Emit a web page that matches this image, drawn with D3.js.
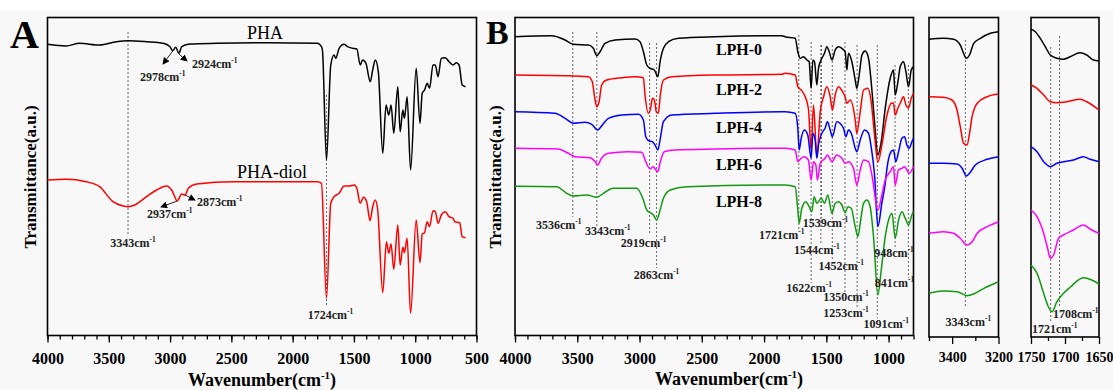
<!DOCTYPE html>
<html>
<head>
<meta charset="utf-8">
<script src="https://cdn.jsdelivr.net/npm/d3@7"></script>
<style>
  body { margin: 0; background: #fff; }
  svg { display: block; }
  svg text { font-family: "Liberation Serif", "Times New Roman", serif; }
</style>
</head>
<body>
<div id="chart"></div>
<script>
// ---- data: [wavenumber (cm-1), transmittance (a.u., stacked)] ----
const pha = [[4000,290.7],[3848,289],[3739,291.7],[3575,290],[3438,293.3],[3343,294.3],[3192,293.3],[3056,291.7],[3001,288.3],[2978,284.3],[2954,287.7],[2928,281.7],[2905,288.3],[2837,291],[2618,291.7],[2208,292.3],[1798,291.7],[1765,288.3],[1757,285],[1724,175],[1689,270],[1662,280],[1648,276.7],[1621,286.7],[1580,290.7],[1552,288.3],[1511,286.7],[1476,286],[1449,270],[1429,275],[1402,271.7],[1367,253.3],[1347,265],[1326,275],[1301,263.3],[1265,181.7],[1238,230],[1216,220],[1197,230],[1175,201.7],[1142,248.3],[1123,203.3],[1101,225],[1088,216.7],[1066,238.3],[1038,165],[992,266.7],[961,211.7],[943,241.7],[924,245],[902,251.7],[883,246.7],[855,270],[836,270],[814,258.3],[787,276.7],[754,277.3],[724,273.3],[691,270],[664,272.3],[642,270],[617,250],[590,248.3]];

const phaDiol = [[4000,155],[3848,155.7],[3684,153.3],[3575,148.3],[3466,133.3],[3384,129],[3343,128.3],[3288,130],[3192,138.3],[3110,145],[3028,149],[2987,145],[2941,134.3],[2905,141],[2878,140],[2851,146.7],[2783,151],[2482,153.3],[1798,153.3],[1765,151.7],[1724,36.7],[1689,131.7],[1662,138.3],[1621,141.7],[1580,149],[1539,149],[1498,150],[1476,146.7],[1449,131.7],[1421,137.7],[1396,133.3],[1369,114.3],[1347,128.3],[1326,135],[1306,125],[1265,42.3],[1235,93.3],[1216,81.7],[1197,91],[1175,65.7],[1142,110],[1123,70],[1101,87.7],[1088,82.3],[1066,96.7],[1038,21.7],[992,115],[961,72.3],[943,101],[924,102.3],[902,113.3],[883,108.3],[855,124.3],[836,123.3],[814,111.7],[787,120],[754,123.3],[724,118.3],[691,116.7],[678,113.3],[637,112.3],[617,98.3],[590,97.3]];

const lph0 = [[4000,298.3],[3705,299.3],[3598,295],[3532,290.7],[3411,290],[3371,286.7],[3344,279.3],[3317,283.3],[3277,291.7],[3196,295],[3036,296],[2996,293.3],[2969,283.3],[2942,270],[2915,266.7],[2881,265],[2853,258.3],[2835,273.3],[2808,286.7],[2768,293.3],[2688,296.7],[2393,298.3],[1857,299.3],[1831,298.3],[1750,296.7],[1729,283.3],[1710,276.7],[1684,278.3],[1656,275],[1638,273.3],[1622,246.7],[1608,275],[1595,273.3],[1576,250],[1563,266.7],[1536,276.7],[1515,281.7],[1496,288.3],[1477,283.3],[1455,275],[1429,285],[1402,288.3],[1375,286.7],[1349,283.3],[1335,265],[1322,281.7],[1295,273.3],[1268,255],[1255,246.7],[1236,260],[1214,280],[1188,284],[1161,276.7],[1140,253.3],[1113,213.3],[1086,180],[1059,193.3],[1027,226.7],[987,256.7],[961,265],[947,240],[925,253.3],[907,268.3],[880,273.3],[861,263.3],[840,248.3],[818,265],[800,268.3]];

const lph2 = [[4000,260],[3598,259.3],[3411,258.3],[3379,253.3],[3363,240],[3344,228.3],[3325,233.3],[3304,250],[3264,255],[3143,257.3],[3036,258.3],[2969,257.3],[2956,240],[2929,221.7],[2908,228.3],[2897,236.7],[2881,235],[2865,223.3],[2849,221.7],[2833,240],[2808,255],[2741,258.3],[2393,260],[1857,260.7],[1831,261.7],[1750,260],[1729,248.3],[1702,245],[1676,240],[1644,226.7],[1622,185],[1603,230],[1576,178],[1549,223.3],[1522,238.3],[1496,248.3],[1469,238.3],[1451,225],[1429,240],[1402,248.3],[1370,243.3],[1349,238.3],[1335,231.7],[1308,235],[1268,215],[1255,201.7],[1228,223.3],[1201,245],[1166,246.7],[1140,233.3],[1113,200],[1086,173],[1054,190],[1013,220],[978,231.7],[961,232],[947,220],[925,227],[907,231.7],[880,238.3],[861,230],[840,227],[818,236.7],[800,241.7]];

const lph4 = [[4000,223.3],[3679,221.7],[3598,216.7],[3532,211.7],[3438,212.7],[3384,210.7],[3336,205],[3299,210],[3250,216.7],[3143,220],[3009,220.7],[2969,215],[2950,198.3],[2923,194],[2897,193.3],[2875,190],[2853,185],[2833,196.7],[2808,213.3],[2741,220],[2393,221.7],[1857,223.3],[1831,223.3],[1750,221.7],[1729,206.7],[1718,185],[1702,196.7],[1676,205],[1649,200],[1622,176.7],[1608,201.7],[1590,195],[1576,176.7],[1563,190],[1536,201.7],[1510,206.7],[1491,213.3],[1469,205],[1451,198.3],[1416,213.3],[1390,211.7],[1362,206.7],[1343,198.3],[1322,205],[1295,200],[1268,186.7],[1255,183.3],[1228,195],[1193,205],[1161,201.7],[1140,188.3],[1113,160],[1086,108.3],[1054,132],[1027,151.7],[1013,166.7],[987,181.7],[961,185],[942,173.3],[920,183.3],[893,196.7],[872,198.3],[853,190],[835,186.7],[813,193.3],[800,196.7]];

const lph6 = [[4000,186.7],[3652,186],[3572,181.7],[3518,178.3],[3397,177.3],[3357,173.3],[3336,170],[3309,176],[3250,181.7],[3089,183.3],[2982,182.7],[2950,173.3],[2915,166],[2889,168.3],[2869,165],[2853,163.3],[2833,173.3],[2801,183.3],[2716,185],[2393,186],[1857,186.7],[1831,186.7],[1750,185],[1729,173.3],[1702,176.7],[1676,178.3],[1644,175],[1622,155],[1603,173.3],[1584,170],[1572,155],[1549,171.7],[1510,176.7],[1491,180],[1455,173.3],[1416,180],[1375,176.7],[1349,171.7],[1322,173.3],[1282,166.7],[1255,150],[1228,165],[1201,175],[1161,173.3],[1134,160],[1086,125],[1054,140],[1027,155],[987,163.3],[961,168.3],[947,150],[920,165],[893,166.7],[872,168.3],[853,165],[835,161.7],[800,168.3]];

const lph8 = [[4000,148.7],[3665,148.3],[3585,141.7],[3532,139],[3424,140],[3344,137.7],[3290,141.7],[3210,146.7],[3022,146.7],[2969,135],[2942,125],[2915,122.3],[2889,120],[2862,115],[2835,125],[2808,136.7],[2754,145],[2620,148.3],[1857,150],[1831,150],[1750,148.3],[1729,125],[1718,111.7],[1697,126.7],[1665,133.3],[1638,128.3],[1617,123.3],[1598,138.3],[1576,131.7],[1541,136.7],[1515,131.7],[1488,140],[1455,121.7],[1429,131.7],[1402,133.3],[1375,130],[1349,122.3],[1327,128.3],[1300,126.7],[1268,108.3],[1246,98.3],[1228,111.7],[1201,131.7],[1174,135],[1148,128.3],[1121,98.3],[1086,40],[1059,65],[1027,98.3],[1000,115],[973,121.7],[947,96.7],[920,115],[893,123.3],[866,116.7],[840,110],[813,120],[800,123.3]];

// zoomed O-H region (3500-3200 cm-1)
const ohLph0 = [[3500,295.7],[3438,296.7],[3394,295.7],[3365,290],[3351,281.7],[3339,276.7],[3325,280],[3307,291.7],[3278,296.7],[3235,301.7],[3200,303.3]];
const ohLph2 = [[3500,238.3],[3438,237.7],[3401,235],[3379,225],[3365,208.3],[3351,191.7],[3336,190],[3325,201.7],[3314,218.3],[3292,231.7],[3249,238.3],[3200,241]];
const ohLph4 = [[3500,171.7],[3438,171.7],[3379,171],[3357,166.7],[3339,159],[3325,161.7],[3300,170],[3249,175.7],[3200,178.3]];
const ohLph6 = [[3500,101.7],[3438,103.3],[3394,101.7],[3365,96.7],[3336,90],[3314,93.3],[3292,101.7],[3249,108.3],[3200,113.3]];
const ohLph8 = [[3500,41.7],[3438,44],[3379,43.3],[3336,39.3],[3307,41],[3263,46.7],[3200,53.3]];

// zoomed C=O region (1750-1650 cm-1)
const coLph0 = [[1750,305.7],[1743.7,303.3],[1736.4,296.7],[1729,288.3],[1721.7,280],[1711.9,276.7],[1702.3,275.7],[1692.5,278.3],[1677.8,282.3],[1668,280],[1658.3,275],[1650,274]];
const coLph2 = [[1750,250],[1741.2,246.7],[1731.4,240],[1721.7,233.3],[1711.9,232.3],[1697.2,233.3],[1677.8,235.7],[1668,233.3],[1650,225]];
const coLph4 = [[1750,188.3],[1741.2,183.3],[1731.4,173.3],[1721.7,168.3],[1711.9,171.7],[1702.3,173.3],[1687.6,175],[1673,178.3],[1663.1,175.7],[1650,173.3]];
const coLph6 = [[1750,125],[1741.2,118.3],[1731.4,101.7],[1725.6,86.7],[1721.7,76.7],[1716.8,80],[1709.4,96.7],[1702.3,100],[1687.6,105],[1673,110],[1660.7,105],[1650,101.7]];
const coLph8 = [[1750,70],[1741.2,61.7],[1731.4,41.7],[1725.6,30],[1719.2,23.3],[1711.9,33.3],[1704.5,40],[1692.5,47.7],[1673,57.3],[1660.7,55],[1650,51]];

const lphNames = ['LPH-0', 'LPH-2', 'LPH-4', 'LPH-6', 'LPH-8'];
const lphColors = ['#000000', '#ff0000', '#0000ff', '#ff00ff', '#119a11'];
const peaksA = [3343, 1724];
const peaksB = [3536, 3343, 2919, 2863, 1721, 1622, 1544, 1539, 1452, 1350, 1253, 1091, 948, 841];

// ---- layout ----
const width = 1113;
const height = 390;
const font = '"Liberation Serif","Times New Roman",serif';

const svg = d3.select('#chart').append('svg')
  .attr('width', width)
  .attr('height', height)
  .style('font-family', font);

svg.append('rect').attr('width', width).attr('height', height).attr('fill', '#f8f8f8');
svg.append('rect').attr('width', width).attr('height', 11).attr('fill', '#fff');

const defs = svg.append('defs');
defs.append('marker')
  .attr('id', 'arrow')
  .attr('viewBox', '0 0 8 8')
  .attr('refX', 7).attr('refY', 4)
  .attr('markerWidth', 7).attr('markerHeight', 7)
  .attr('markerUnits', 'userSpaceOnUse')
  .attr('orient', 'auto')
  .append('path').attr('d', 'M0,0 L8,4 L0,8 z').attr('fill', '#000');

const y = d3.scaleLinear().domain([0, 318]).range([335, 17]);

const panels = {
  A: { x: d3.scaleLinear().domain([4000, 500]).range([47.5, 476.5]), top: 17.5, bottom: 335.5,
       major: d3.range(4000, 499, -500), minor: d3.range(4000, 499, -100), fs: 16, pad: 10 },
  B: { x: d3.scaleLinear().domain([4000, 800]).range([515, 913.5]), top: 17.5, bottom: 335.5,
       major: d3.range(4000, 999, -500), minor: d3.range(4000, 799, -100), fs: 16, pad: 10 },
  C: { x: d3.scaleLinear().domain([3500, 3200]).range([929, 998.5]), top: 17.5, bottom: 337,
       major: [3400, 3200], minor: [3500, 3300], fs: 14, pad: 8 },
  D: { x: d3.scaleLinear().domain([1750, 1650]).range([1031, 1099]), top: 17.5, bottom: 337,
       major: [1750, 1700, 1650], minor: [1725, 1675], fs: 14, pad: 8 }
};

function drawFrame(p) {
  const g = svg.append('g');
  const [x0, x1] = p.x.range();
  g.append('rect')
    .attr('x', x0).attr('y', p.top)
    .attr('width', x1 - x0).attr('height', p.bottom - p.top)
    .attr('fill', 'none').attr('stroke', '#000').attr('stroke-width', 1.6);

  const minorAxis = d3.axisBottom(p.x).tickValues(p.minor).tickSize(4).tickFormat('');
  const majorAxis = d3.axisBottom(p.x).tickValues(p.major).tickSize(7).tickPadding(p.pad)
    .tickFormat(d3.format('d'));

  g.append('g').attr('transform', `translate(0,${p.bottom})`).call(minorAxis)
    .call(a => a.select('.domain').remove())
    .call(a => a.selectAll('.tick line').attr('stroke', '#000').attr('stroke-width', 1.3));
  g.append('g').attr('transform', `translate(0,${p.bottom})`).call(majorAxis)
    .attr('font-family', null)
    .call(a => a.select('.domain').remove())
    .call(a => a.selectAll('.tick line').attr('stroke', '#000').attr('stroke-width', 1.3))
    .call(a => a.selectAll('.tick text')
      .attr('fill', '#000')
      .style('font-family', font)
      .style('font-size', p.fs + 'px').style('font-weight', 'bold'));
  return g;
}

function drawSpectrum(p, data, color) {
  const line = d3.line()
    .x(d => p.x(d[0]))
    .y(d => y(d[1]))
    .curve(d3.curveMonotoneX);
  svg.append('path')
    .datum(data)
    .attr('d', line)
    .attr('fill', 'none')
    .attr('stroke', color)
    .attr('stroke-width', 1.5)
    .attr('stroke-linejoin', 'round');
}

function dashed(x, y1, y2) {
  svg.append('line')
    .attr('x1', x).attr('x2', x).attr('y1', y1).attr('y2', y2)
    .attr('stroke', '#666').attr('stroke-width', 1)
    .attr('stroke-dasharray', '2,2');
}

function wnLabel(x, yy, wn, size, anchor) {
  const t = svg.append('text')
    .attr('x', x).attr('y', yy)
    .attr('font-size', size).attr('font-weight', 'bold')
    .attr('text-anchor', anchor || 'middle')
    .attr('fill', '#222');
  t.append('tspan').text(wn + 'cm');
  t.append('tspan').attr('dy', -size * 0.42).attr('font-size', size * 0.62).text('-1');
}

function axisTitle(cx, yy) {
  const t = svg.append('text')
    .attr('x', cx).attr('y', yy)
    .attr('text-anchor', 'middle')
    .attr('font-size', 18).attr('font-weight', 'bold');
  t.append('tspan').text('Wavenumber(cm');
  t.append('tspan').attr('dy', -7).attr('font-size', 11).text('-1');
  t.append('tspan').attr('dy', 7).text(')');
}

function yTitle(x, yy) {
  svg.append('text')
    .attr('transform', `translate(${x},${yy}) rotate(-90)`)
    .attr('text-anchor', 'middle')
    .attr('font-size', 17).attr('font-weight', 'bold')
    .text('Transmittance(a.u.)');
}

// ---- panel A ----
const pA = panels.A;
dashed(pA.x(peaksA[0]), 32, 235);
dashed(pA.x(peaksA[1]), 95, 306);
drawFrame(pA);
drawSpectrum(pA, pha, '#000');
drawSpectrum(pA, phaDiol, '#ff0000');

svg.append('text').attr('x', 265).attr('y', 39).attr('text-anchor', 'middle')
  .attr('font-size', 18).text('PHA');
svg.append('text').attr('x', 272).attr('y', 178).attr('text-anchor', 'middle')
  .attr('font-size', 18).text('PHA-diol');

wnLabel(pA.x(peaksA[0]) + 5, 247, peaksA[0], 12);
wnLabel(pA.x(peaksA[1]) + 4, 319, peaksA[1], 12);

// arrow callouts for C-H bands
const callouts = [
  { wn: 2978, y0: 51, x1: 163, y1: 64 },
  { wn: 2928, y0: 54, x1: 187, y1: 61 },
  { wn: 2941, y0: 201, x1: 161, y1: 207 },
  { wn: 2878, y0: 195, x1: 195, y1: 200 }
];
callouts.forEach(c => {
  svg.append('line')
    .attr('x1', pA.x(c.wn)).attr('y1', c.y0)
    .attr('x2', c.x1).attr('y2', c.y1)
    .attr('stroke', '#222').attr('stroke-width', 1)
    .attr('marker-end', 'url(#arrow)');
});
wnLabel(140, 81, 2978, 12, 'start');
wnLabel(192, 68, 2924, 12, 'start');
wnLabel(147, 218, 2937, 12, 'start');
wnLabel(197, 206, 2873, 12, 'start');

svg.append('text').attr('x', 10).attr('y', 48)
  .attr('font-size', 40).attr('font-weight', 'bold').text('A');
axisTitle(262, 386);
yTitle(36, 177);

// ---- panel B ----
const pB = panels.B;
const peakLayoutB = [
  { top: 32, bottom: 217, dx: -14, ty: 229 },
  { top: 32, bottom: 226, dx: 11, ty: 235 },
  { top: 43, bottom: 235, dx: -6, ty: 247 },
  { top: 43, bottom: 268, dx: 0, ty: 279 },
  { top: 35, bottom: 230, dx: -17, ty: 239 },
  { top: 42, bottom: 283, dx: -2, ty: 292 },
  { top: 45, bottom: 245, dx: -4, ty: 254 },
  { top: 45, bottom: 218, dx: 4, ty: 227 },
  { top: 45, bottom: 261, dx: 9, ty: 270 },
  { top: 42, bottom: 292, dx: 1, ty: 301 },
  { top: 45, bottom: 308, dx: -11, ty: 317 },
  { top: 45, bottom: 318, dx: 9, ty: 328 },
  { top: 65, bottom: 248, dx: -1, ty: 257 },
  { top: 65, bottom: 278, dx: -14, ty: 287 }
];
peaksB.forEach((wn, i) => dashed(pB.x(wn), peakLayoutB[i].top, peakLayoutB[i].bottom));
drawFrame(pB);
[lph0, lph2, lph4, lph6, lph8].forEach((s, i) => drawSpectrum(pB, s, lphColors[i]));
peaksB.forEach((wn, i) => wnLabel(pB.x(wn) + peakLayoutB[i].dx, peakLayoutB[i].ty, wn, 12));

const lphLabelY = [55, 95, 133, 170, 207];
lphNames.forEach((n, i) => {
  svg.append('text').attr('x', 739).attr('y', lphLabelY[i])
    .attr('text-anchor', 'middle').attr('font-size', 16).attr('font-weight', 'bold')
    .text(n);
});

svg.append('text').attr('x', 486).attr('y', 44)
  .attr('font-size', 34).attr('font-weight', 'bold').text('B');
axisTitle(729, 385);
yTitle(501, 177);

// ---- panel C (O-H) ----
const pC = panels.C;
dashed(pC.x(3343), 40, 308);
drawFrame(pC);
[ohLph0, ohLph2, ohLph4, ohLph6, ohLph8].forEach((s, i) => drawSpectrum(pC, s, lphColors[i]));
wnLabel(pC.x(3343) + 3, 326, 3343, 12);

// ---- panel D (C=O) ----
const pD = panels.D;
dashed(pD.x(1721), 47, 322);
dashed(pD.x(1708), 36, 308);
drawFrame(pD);
[coLph0, coLph2, coLph4, coLph6, coLph8].forEach((s, i) => drawSpectrum(pD, s, lphColors[i]));
wnLabel(1053, 318, 1708, 12, 'start');
wnLabel(1032, 333, 1721, 12, 'start');
</script>
</body>
</html>
